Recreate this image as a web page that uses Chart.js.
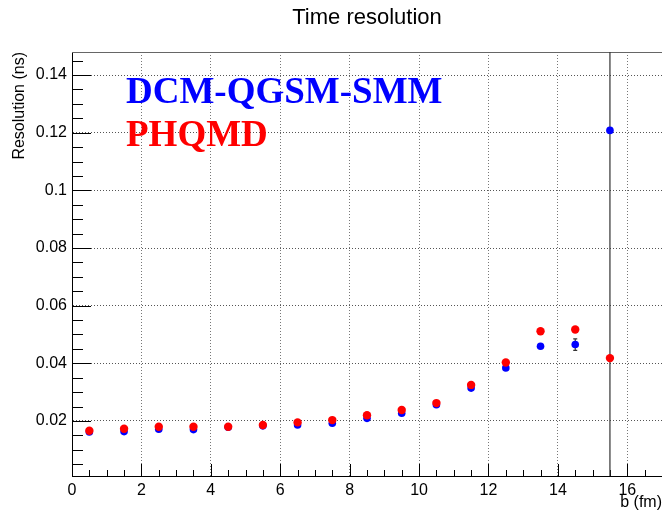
<!DOCTYPE html>
<html>
<head>
<meta charset="utf-8">
<title>Time resolution</title>
<script src="https://cdn.jsdelivr.net/npm/chart.js@4.4.0/dist/chart.umd.min.js"></script>
<style>
  html, body { margin: 0; padding: 0; background: #fff; }
  canvas { display: block; }
</style>
</head>
<body>
<canvas id="c" width="662" height="513"></canvas>
<script>
// impact parameter bins (fm)
var bValues = [0.5, 1.5, 2.5, 3.5, 4.5, 5.5, 6.5, 7.5, 8.5, 9.5, 10.5, 11.5, 12.5, 13.5, 14.5, 15.5];

// DCM-QGSM-SMM resolution (ns) and its errors
var dcmRes = [0.0162, 0.0163, 0.0171, 0.0170, 0.0178, 0.0183, 0.0186, 0.0192, 0.0209, 0.0227, 0.0256, 0.0314, 0.0384, 0.0459, 0.0465, 0.1208];
var dcmErr = [0.0003, 0.0003, 0.0003, 0.0003, 0.0003, 0.0003, 0.0004, 0.0004, 0.0004, 0.0005, 0.0005, 0.0006, 0.0007, 0.0006, 0.0020, 0.1500];

// PHQMD resolution (ns)
var phqmdRes = [0.0166, 0.0173, 0.0180, 0.0180, 0.0180, 0.0186, 0.0195, 0.0203, 0.0220, 0.0238, 0.0262, 0.0325, 0.0403, 0.0511, 0.0517, 0.0418];

// axis labels
var xTickValues = [0, 2, 4, 6, 8, 10, 12, 14, 16];
var yTickValues = [0.02, 0.04, 0.06, 0.08, 0.10, 0.12, 0.14];

function toPoints(xs, ys) {
    return xs.map(function (x, i) { return { x: x, y: ys[i] }; });
}

// inward ROOT-style tick marks, top frame line, error bars, model labels
var rootFrame = {
    id: 'rootFrame',
    beforeDatasetsDraw: function (chart) {
        var ctx = chart.ctx, a = chart.chartArea;
        var xs = chart.scales.x, ys = chart.scales.y;
        ctx.save();
        ctx.strokeStyle = '#000';
        ctx.lineWidth = 1;
        ctx.beginPath();
        for (var k = 1; k <= 34; k++) {
            var v = k * 0.5;
            var px = Math.round(xs.getPixelForValue(v)) + 0.5;
            var len = (k % 4 === 0) ? 12 : 6;
            ctx.moveTo(px, a.bottom);
            ctx.lineTo(px, a.bottom - len);
        }
        for (var j = 1; j <= 29; j++) {
            var w = j * 0.005;
            var py = Math.round(ys.getPixelForValue(w)) + 0.5;
            if (py < a.top) continue;
            var l2 = (j % 4 === 0) ? 19 : 11;
            ctx.moveTo(a.left, py);
            ctx.lineTo(a.left + l2, py);
        }
        ctx.stroke();
        ctx.strokeStyle = '#666';
        ctx.beginPath();
        ctx.moveTo(a.left, a.top + 0.5);
        ctx.lineTo(a.right, a.top + 0.5);
        ctx.stroke();

        // error bars for DCM-QGSM-SMM
        ctx.strokeStyle = '#333';
        ctx.lineWidth = 1.2;
        ctx.beginPath();
        bValues.forEach(function (b, i) {
            var px = xs.getPixelForValue(b);
            var y1 = Math.min(ys.getPixelForValue(dcmRes[i] - dcmErr[i]), a.bottom);
            var y2 = Math.max(ys.getPixelForValue(dcmRes[i] + dcmErr[i]), a.top);
            ctx.moveTo(px, y1);
            ctx.lineTo(px, y2);
            if (y1 < a.bottom) { ctx.moveTo(px - 2, y1); ctx.lineTo(px + 2, y1); }
            if (y2 > a.top) { ctx.moveTo(px - 2, y2); ctx.lineTo(px + 2, y2); }
        });
        ctx.stroke();
        ctx.restore();
    },
    afterDraw: function (chart) {
        var ctx = chart.ctx;
        ctx.save();
        ctx.font = 'bold 37px "Liberation Serif", "Times New Roman", serif';
        ctx.textAlign = 'left';
        ctx.textBaseline = 'alphabetic';
        ctx.fillStyle = '#0000ff';
        ctx.fillText('DCM-QGSM-SMM', 126, 103);
        ctx.fillStyle = '#ff0000';
        ctx.fillText('PHQMD', 126, 146);
        ctx.restore();
    }
};

var ctx = document.getElementById('c');

var chartData = {
    datasets: [{
        label: 'PHQMD',
        data: toPoints(bValues, phqmdRes),
        backgroundColor: '#ff0000',
        borderColor: '#ff0000',
        pointRadius: 4.2,
        pointHoverRadius: 4.2,
        borderWidth: 0
    }, {
        label: 'DCM-QGSM-SMM',
        data: toPoints(bValues, dcmRes),
        backgroundColor: '#0000ff',
        borderColor: '#0000ff',
        pointRadius: 3.8,
        pointHoverRadius: 3.8,
        borderWidth: 0
    }]
};

var tickFont = { family: '"Liberation Sans", Arial, sans-serif', size: 16 };

var chartOptions = {
    responsive: false,
    animation: false,
    layout: { padding: 0, autoPadding: false },
    plugins: {
        legend: { display: false },
        tooltip: { enabled: false },
        title: {
            display: true,
            fullSize: false,
            text: 'Time resolution',
            color: '#000',
            font: { family: '"Liberation Sans", Arial, sans-serif', size: 22, weight: 'normal' },
            padding: { top: 4.5, bottom: 21.1 }
        }
    },
    scales: {
        x: {
            type: 'linear',
            min: 0,
            max: 17,
            grid: { color: '#777', lineWidth: 1, drawTicks: false },
            border: { display: true, color: '#000', width: 1, dash: [1, 2] },
            afterBuildTicks: function (s) { s.ticks = xTickValues.map(function (v) { return { value: v }; }); },
            afterFit: function (s) { s.height = 37; },
            ticks: {
                color: '#000',
                font: tickFont,
                padding: 5,
                autoSkip: false,
                maxRotation: 0,
                callback: function (v) { return String(v); }
            },
            title: {
                display: true,
                text: 'b (fm)',
                align: 'end',
                color: '#000',
                font: tickFont,
                padding: { top: 0, bottom: 0.5 }
            }
        },
        y: {
            type: 'linear',
            min: 0.0009,
            max: 0.148,
            grid: { color: '#555', lineWidth: 1, drawTicks: false },
            border: { display: true, color: '#000', width: 1, dash: [1, 2] },
            afterBuildTicks: function (s) { s.ticks = yTickValues.map(function (v) { return { value: v }; }); },
            afterFit: function (s) { s.width = 72; },
            ticks: {
                color: '#000',
                font: tickFont,
                padding: 5,
                callback: function (v) { return String(+v.toFixed(3)); }
            },
            title: {
                display: true,
                text: 'Resolution (ns)',
                align: 'end',
                color: '#000',
                font: tickFont,
                padding: { top: 10, bottom: 0 }
            }
        }
    }
};

var config = {
    type: 'scatter',
    data: chartData,
    options: chartOptions,
    plugins: [rootFrame]
};

var timeResChart = new Chart(ctx, config);
</script>
</body>
</html>
